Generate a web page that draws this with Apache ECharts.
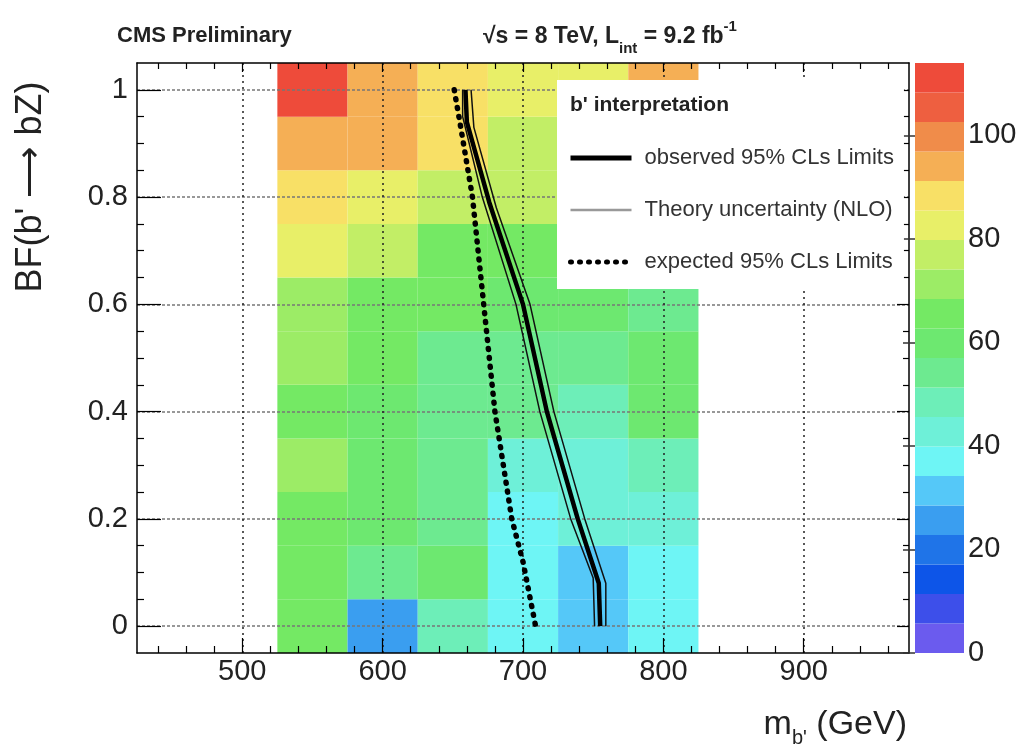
<!DOCTYPE html>
<html>
<head>
<meta charset="utf-8">
<script src="https://cdn.jsdelivr.net/npm/echarts@6/dist/echarts.min.js"></script>
<style>
html, body { margin: 0; background: #fff; }
#chart { width: 1023px; height: 752px; }
</style>
</head>
<body>
<div id="chart"></div>
<script>
// bin centres: b' mass (GeV) and BF(b' -> bZ)
const massBins = [550, 600, 650, 700, 750, 800];
const bfBins = [0, 0.1, 0.2, 0.3, 0.4, 0.5, 0.6, 0.7, 0.8, 0.9, 1.0];
const cellValues = [
  [65, 26, 48, 37, 31, 37],
  [65, 54, 60, 37, 31, 37],
  [65, 60, 54, 37, 43, 43],
  [71, 60, 54, 43, 43, 48],
  [65, 60, 54, 54, 48, 60],
  [71, 65, 54, 54, 54, 60],
  [71, 65, 65, 60, 60, 54],
  [83, 77, 65, 65, 65, 60],
  [88, 83, 77, 77, 71, 71],
  [94, 94, 88, 77, 77, 77],
  [111, 94, 88, 83, 83, 94]
];
// limit curves, [mass, BF]
const observedLimit = [[659, 1.0], [660, 0.94], [676, 0.79], [700, 0.6], [717, 0.4], [739, 0.2], [754, 0.08], [755, 0.0]];
const theoryUp = [[663, 1.0], [665, 0.93], [681, 0.78], [705, 0.6], [722, 0.4], [744, 0.2], [759, 0.08], [759, 0.0]];
const theoryDown = [[657, 1.0], [657, 0.95], [671, 0.8], [695, 0.6], [712, 0.4], [734, 0.2], [750, 0.09], [751, 0.0]];
const expectedLimit = [[651, 1.0], [655, 0.94], [664, 0.8], [672, 0.6], [680, 0.4], [692, 0.2], [700, 0.12], [709, 0.0]];
// palette levels (z axis) and tick labels
const levelEdges = [0, 5.7, 11.4, 17.1, 22.8, 28.5, 34.2, 39.9, 45.6, 51.3, 57, 62.7, 68.4, 74.1, 79.8, 85.5, 91.2, 96.9, 102.6, 108.3, 114];
const levelColors = ['#6b5bee', '#3d4fea', '#0d55e8', '#1f74e8', '#3a9ef0', '#55c8f8', '#6ef5f5', '#6ef0d8', '#6deeb8', '#6dea90',
  '#6de870', '#74e964', '#9cec66', '#c2ee66', '#e8ef68', '#f8e066', '#f5af55', '#f08c4a', '#ee5f40', '#ee4b3a'];
const massTicks = [500, 600, 700, 800, 900];
const massMinorTicks = [440, 460, 480, 520, 540, 560, 580, 620, 640, 660, 680, 720, 740, 760, 780, 820, 840, 860, 880, 920, 940, 960];
const bfTicks = [0, 0.2, 0.4, 0.6, 0.8, 1];
const bfMinorTicks = [0.05, 0.1, 0.15, 0.25, 0.3, 0.35, 0.45, 0.5, 0.55, 0.65, 0.7, 0.75, 0.85, 0.9, 0.95];
const zTicks = [0, 20, 40, 60, 80, 100];

const FONT = 'Liberation Sans';
const halfW = (massBins[1] - massBins[0]) / 2;
const halfH = (bfBins[1] - bfBins[0]) / 2;

const cells = [];
cellValues.forEach(function (row, r) {
  row.forEach(function (v, c) {
    cells.push([massBins[c], bfBins[r], v]);
  });
});
const bands = levelColors.map(function (col, i) {
  return [levelEdges[i], levelEdges[i + 1], i];
});

const chart = echarts.init(document.getElementById('chart'));

function tickAxis(pos, vals, len, extra) {
  return Object.assign({
    type: 'value', gridIndex: 0, position: pos,
    axisLine: { show: false, onZero: false },
    axisTick: { show: true, inside: true, length: len, customValues: vals, lineStyle: { color: '#000', width: 1.2 } },
    axisLabel: { show: false },
    splitLine: { show: false },
    z: 3
  }, extra);
}
const frameLine = { show: true, onZero: false, lineStyle: { color: '#000', width: 1.5 } };
const xRange = { min: 425, max: 975 };
const yRange = { min: -0.05, max: 1.05 };

const option = {
  animation: false,
  backgroundColor: '#fff',
  title: [
    { text: 'CMS Preliminary', left: 112, top: 20, textStyle: { fontFamily: FONT, fontWeight: 'bold', fontSize: 22, color: '#222' } },
    {
      text: '{a|√s = 8 TeV, L}{sub|int}{a| = 9.2 fb}{sup|-1}', left: 478, top: 12,
      textStyle: {
        rich: {
          a: { fontFamily: FONT, fontWeight: 'bold', fontSize: 23, color: '#222', lineHeight: 40 },
          sub: { fontFamily: FONT, fontWeight: 'bold', fontSize: 15, color: '#222', lineHeight: 16, padding: [24, 0, 0, 0] },
          sup: { fontFamily: FONT, fontWeight: 'bold', fontSize: 15, color: '#222', lineHeight: 16, padding: [0, 0, 20, 0] }
        }
      }
    },
    { text: "b' interpretation", left: 565, top: 90, z: 12, textStyle: { fontFamily: FONT, fontWeight: 'bold', fontSize: 21, color: '#222' } },
    {
      text: "{m|m}{sub|b'}{m| (GeV)}", right: 111, top: 697,
      textStyle: {
        rich: {
          m: { fontFamily: FONT, fontWeight: 'normal', fontSize: 34, color: '#222', lineHeight: 46 },
          sub: { fontFamily: FONT, fontWeight: 'normal', fontSize: 20, color: '#222', lineHeight: 20, padding: [26, 0, 0, 0] }
        }
      }
    }
  ],
  graphic: [
    {
      type: 'text', x: 31, y: 187, rotation: Math.PI / 2,
      style: { text: "BF(b' ⟶ bZ)", font: '36px "Liberation Sans"', fill: '#222', align: 'center', verticalAlign: 'middle' }
    }
  ],
  legend: {
    orient: 'vertical', left: 557, top: 80, z: 10,
    backgroundColor: '#fff', padding: [67, 10, 16, 11],
    itemWidth: 61, itemHeight: 14, itemGap: 30,
    selectedMode: false,
    itemStyle: { opacity: 0 },
    textStyle: { fontFamily: FONT, fontSize: 22, color: '#333', padding: [0, 0, 0, 8] },
    data: [
      { name: 'observed 95% CLs Limits', lineStyle: { color: '#000', width: 5 } },
      { name: 'Theory uncertainty (NLO)', lineStyle: { color: '#999', width: 2.5 } },
      { name: 'expected 95% CLs Limits', lineStyle: { color: '#000', width: 5 } }
    ]
  },
  visualMap: {
    type: 'piecewise', show: false, dimension: 2, seriesIndex: 0,
    pieces: bands.map(function (b) { return { gte: b[0], lt: b[1], color: levelColors[b[2]] }; })
  },
  grid: [
    { left: 137, top: 63, width: 772, height: 590 },
    { left: 915, top: 63, width: 49, height: 590 }
  ],
  xAxis: [
    Object.assign({
      type: 'value', gridIndex: 0, position: 'bottom', z: 3,
      axisLine: frameLine,
      axisTick: { show: true, inside: true, length: 15, customValues: massTicks, lineStyle: { color: '#000', width: 1.2 } },
      axisLabel: { show: true, customValues: massTicks, margin: 4, fontFamily: FONT, fontSize: 29, color: '#222' },
      splitLine: { show: true, lineStyle: { color: '#222', width: 1.5, type: [2, 4] } }
    }, xRange),
    tickAxis('bottom', massMinorTicks, 7, xRange),
    Object.assign(tickAxis('top', massTicks, 9, xRange), { axisLine: frameLine }),
    tickAxis('top', massMinorTicks, 6, xRange),
    { type: 'value', gridIndex: 1, min: 0, max: 1, show: false }
  ],
  yAxis: [
    Object.assign({
      type: 'value', gridIndex: 0, position: 'left', z: 3,
      axisLine: frameLine,
      axisTick: { show: true, inside: true, length: 24, customValues: bfTicks, lineStyle: { color: '#000', width: 1.2 } },
      axisLabel: { show: true, customValues: bfTicks, margin: 9, fontFamily: FONT, fontSize: 29, color: '#222' },
      splitLine: { show: true, lineStyle: { color: '#777', width: 1.5, type: [3, 2] } }
    }, yRange),
    tickAxis('left', bfMinorTicks, 7, yRange),
    Object.assign(tickAxis('right', bfTicks, 12, yRange), { axisLine: frameLine }),
    tickAxis('right', bfMinorTicks, 6, yRange),
    {
      type: 'value', gridIndex: 1, min: 0, max: 114, position: 'right',
      axisLine: { show: false },
      axisTick: { show: true, inside: true, length: 12, customValues: zTicks, lineStyle: { color: '#333', width: 1.5 } },
      axisLabel: { show: true, customValues: zTicks, margin: 4, fontFamily: FONT, fontSize: 29, color: '#222' },
      splitLine: { show: false },
      z: 3
    }
  ],
  series: [
    {
      type: 'custom', name: 'cells', xAxisIndex: 0, yAxisIndex: 0, z: 1,
      data: cells,
      renderItem: function (params, api) {
        const x = api.value(0), y = api.value(1);
        const p0 = api.coord([x - halfW, y + halfH]);
        const p1 = api.coord([x + halfW, y - halfH]);
        return {
          type: 'rect',
          shape: { x: p0[0], y: p0[1], width: p1[0] - p0[0], height: p1[1] - p0[1] },
          style: { fill: api.visual('color') }
        };
      }
    },
    {
      type: 'line', name: 'Theory uncertainty (NLO)', data: theoryUp, symbol: 'none', z: 5,
      itemStyle: { color: '#999' },
      lineStyle: { color: '#111', width: 1.5 }
    },
    {
      type: 'line', name: 'Theory uncertainty (NLO)', data: theoryDown, symbol: 'none', z: 5,
      itemStyle: { color: '#999' },
      lineStyle: { color: '#111', width: 1.5 }
    },
    {
      type: 'line', name: 'observed 95% CLs Limits', data: observedLimit, symbol: 'none', z: 6,
      itemStyle: { color: '#000' },
      lineStyle: { color: '#000', width: 4.5 }
    },
    {
      type: 'line', name: 'expected 95% CLs Limits', data: expectedLimit, symbol: 'none', z: 6,
      itemStyle: { color: '#000' },
      lineStyle: { color: '#000', width: 5.5, type: [1, 8], cap: 'round' }
    },
    {
      type: 'custom', name: 'palette', xAxisIndex: 4, yAxisIndex: 4,
      data: bands,
      renderItem: function (params, api) {
        const p0 = api.coord([0, api.value(1)]);
        const p1 = api.coord([1, api.value(0)]);
        return {
          type: 'rect',
          shape: { x: p0[0], y: p0[1], width: p1[0] - p0[0], height: p1[1] - p0[1] },
          style: { fill: levelColors[api.value(2)] }
        };
      }
    }
  ]
};
chart.setOption(option);
</script>
</body>
</html>
